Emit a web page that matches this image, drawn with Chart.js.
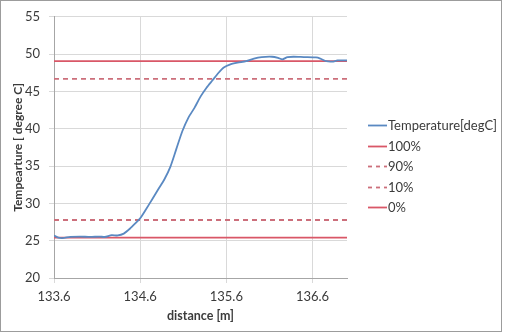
<!DOCTYPE html>
<html>
<head>
<meta charset="utf-8">
<script src="https://cdn.jsdelivr.net/npm/chart.js@4/dist/chart.umd.min.js"></script>
<style>
  html, body { margin: 0; padding: 0; background: #fff; }
  #wrap { width: 506px; height: 333px; position: relative; }
</style>
</head>
<body>
<div id="wrap"><canvas id="tempChart" width="506" height="333"></canvas></div>
<script>
// distance along the fibre [m] and measured temperature [degC]
const distance = [
  133.60, 133.65, 133.70, 133.79, 133.90, 134.02, 134.13, 134.19, 134.27, 134.34,
  134.41, 134.48, 134.55, 134.60, 134.67, 134.74, 134.81, 134.88, 134.95, 135.02,
  135.09, 135.16, 135.23, 135.30, 135.37, 135.44, 135.51, 135.57, 135.64, 135.73,
  135.83, 135.92, 136.01, 136.13, 136.20, 136.25, 136.31, 136.38, 136.50, 136.64,
  136.69, 136.76, 136.83, 136.89, 137.00
];
const temperature = [
  25.7, 25.4, 25.35, 25.5, 25.55, 25.5, 25.55, 25.5, 25.75, 25.7,
  25.95, 26.6, 27.4, 28.0, 29.25, 30.55, 31.9, 33.2, 34.9, 37.3,
  39.7, 41.5, 42.8, 44.3, 45.5, 46.5, 47.5, 48.2, 48.6, 48.85,
  49.05, 49.4, 49.6, 49.65, 49.5, 49.3, 49.6, 49.65, 49.6, 49.55,
  49.4, 49.05, 49.0, 49.15, 49.15
];

// step-response reference levels
const levelNames = ["100%", "90%", "10%", "0%"];
const levelValues = [49.05, 46.69, 27.77, 25.4];

const xRange = [133.6, 137.0];
const xTicks = [133.6, 134.6, 135.6, 136.6];
const yTicks = [20, 25, 30, 35, 40, 45, 50, 55];

const fontFamily = "Lato";
const textColor = "#3b3b3b";
const gridColor = "#d9d9d9";
const axisColor = "#a6a6a6";

const levelStyles = {
  "100%": { color: "#d95767", dash: [] },
  "90%": { color: "#cc6f7b", dash: [5, 4] },
  "10%": { color: "#cc6f7b", dash: [5, 4] },
  "0%": { color: "#d95767", dash: [] }
};

const datasets = [
  {
    label: "Temperature[degC]",
    data: distance.map((d, i) => ({ x: d, y: temperature[i] })),
    borderColor: "#5a89c2",
    borderWidth: 1.8,
    pointRadius: 0,
    tension: 0.25,
    fill: false
  }
];

levelNames.forEach((name, i) => {
  datasets.push({
    label: name,
    data: xRange.map((x) => ({ x, y: levelValues[i] })),
    borderColor: levelStyles[name].color,
    borderDash: levelStyles[name].dash,
    borderWidth: 1.8,
    pointRadius: 0,
    fill: false
  });
});

// white background + thin outer frame
const framePlugin = {
  id: "frame",
  beforeDraw(chart) {
    const ctx = chart.ctx;
    ctx.save();
    ctx.fillStyle = "#fff";
    ctx.fillRect(0, 0, chart.width, chart.height);
    ctx.restore();
  },
  afterDraw(chart) {
    const ctx = chart.ctx;
    ctx.save();
    ctx.strokeStyle = "#9c9c9c";
    ctx.lineWidth = 1;
    ctx.strokeRect(0.5, 0.5, 501, 331);
    ctx.restore();
  }
};

// legend drawn as short line samples with the label right next to it
const sideLegend = {
  id: "sideLegend",
  afterDraw(chart) {
    const ctx = chart.ctx;
    const x0 = 368;
    const sample = 19;
    const top = 125;
    const step = 20.6;
    ctx.save();
    ctx.font = "13px " + fontFamily;
    ctx.textBaseline = "middle";
    chart.data.datasets.forEach((ds, i) => {
      const y = Math.round(top + i * step) + 0.5;
      ctx.beginPath();
      ctx.strokeStyle = ds.borderColor;
      ctx.lineWidth = 1.8;
      ctx.setLineDash(ds.borderDash && ds.borderDash.length ? [4, 4] : []);
      ctx.moveTo(x0, y);
      ctx.lineTo(x0 + sample, y);
      ctx.stroke();
      ctx.setLineDash([]);
      ctx.fillStyle = textColor;
      ctx.fillText(ds.label, x0 + sample + 1, y);
    });
    ctx.restore();
  }
};

new Chart(document.getElementById("tempChart"), {
  type: "line",
  data: { datasets },
  options: {
    responsive: false,
    animation: false,
    layout: { padding: { left: 0, top: 12, right: 159, bottom: 0 } },
    plugins: {
      legend: { display: false },
      tooltip: { enabled: false }
    },
    scales: {
      x: {
        type: "linear",
        min: xRange[0],
        max: xRange[1],
        afterBuildTicks: (scale) => {
          scale.ticks = xTicks.map((v) => ({ value: v }));
        },
        afterFit: (scale) => {
          scale.height = 55;
        },
        ticks: {
          color: textColor,
          font: { family: fontFamily, size: 13 },
          padding: 6,
          maxRotation: 0,
          callback: (v) => Number(v).toFixed(1)
        },
        grid: { color: gridColor, tickLength: 5, tickColor: gridColor },
        border: { color: axisColor },
        title: {
          display: true,
          text: "distance [m]",
          color: textColor,
          font: { family: fontFamily, size: 12.5, weight: "bold" },
          padding: { top: 0, bottom: 10 }
        }
      },
      y: {
        min: yTicks[0],
        max: yTicks[yTicks.length - 1],
        afterBuildTicks: (scale) => {
          scale.ticks = yTicks.map((v) => ({ value: v }));
        },
        afterFit: (scale) => {
          scale.width = 54;
        },
        ticks: {
          color: textColor,
          font: { family: fontFamily, size: 13 },
          padding: 9
        },
        grid: { color: gridColor, tickLength: 5, tickColor: gridColor },
        border: { color: axisColor },
        title: {
          display: true,
          text: "Tempearture [ degree C]",
          color: textColor,
          font: { family: fontFamily, size: 12, weight: "bold" },
          padding: { top: 11, bottom: 0 }
        }
      }
    }
  },
  plugins: [framePlugin, sideLegend]
});
</script>
</body>
</html>
